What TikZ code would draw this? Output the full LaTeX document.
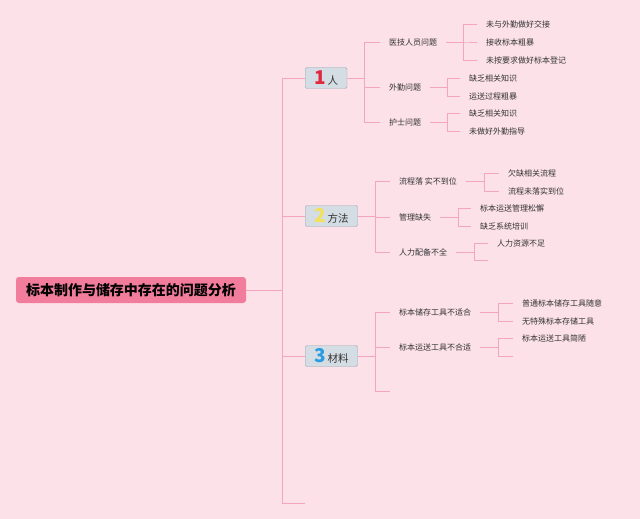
\documentclass[tikz,border=0pt]{standalone}
\usepackage{fontspec}
\setmainfont{Noto Sans CJK SC}
\usepackage{tikz}
\definecolor{bgPink}{HTML}{FCE1E9}
\definecolor{rootPink}{HTML}{F27C9C}
\definecolor{linkPink}{HTML}{F4A6BF}
\definecolor{boxGray}{HTML}{D4DDE3}
\definecolor{boxBorder}{HTML}{9CA7AF}
\definecolor{textGray}{HTML}{333333}
\definecolor{numRed}{HTML}{E0283F}
\definecolor{numYellow}{HTML}{F3E15A}
\definecolor{numBlue}{HTML}{2D9BE0}
\newcommand{\bignum}[2]{\textcolor{#1}{\fontsize{19}{19}\selectfont\bfseries #2}}

\begin{document}
\begin{tikzpicture}[x=1pt, y=-1pt, font=\fontsize{8}{10}\selectfont,
        root/.style={fill=rootPink, rounded corners=3pt, inner xsep=10pt,
            minimum height=26pt, font=\fontsize{14}{16}\selectfont\bfseries},
        cat/.style={draw=boxBorder, fill=boxGray, rounded corners=1.5pt, anchor=west,
            inner xsep=9pt, inner ysep=0pt, minimum height=21pt,
            font=\fontsize{10.5}{12}\selectfont, text=textGray},
        sub/.style={anchor=west, inner xsep=9pt, text=textGray},
        leaf/.style={anchor=west, inner xsep=9pt, text=textGray},
        link/.style={draw=linkPink, line width=0.9pt}]
        \fill[bgPink] (0,0) rectangle (640,519);
        \useasboundingbox (0,0) rectangle (640,519);
        % main branches
        \node[root] (r)  at (131,290) {标本制作与储存中存在的问题分析};
        \node[cat]  (c1) at (305,78)  {\bignum{numRed}{1}\,人};
        \node[cat]  (c2) at (305,216) {\bignum{numYellow}{2}\,方法};
        \node[cat]  (c3) at (305,356) {\bignum{numBlue}{3}\,材料};
        \coordinate (e0) at (305,503);
        \foreach \c in {c1,c2,c3} \draw[link] (r.east) -- ++(36,0) |- (\c.west);
        \draw[link] (r.east) -- ++(36,0) |- (e0);
        % 人
        \node[sub]  (s11) at (380,42)  {医技人员问题};
        \node[sub]  (s12) at (380,87)  {外勤问题};
        \node[sub]  (s13) at (380,122) {护士问题};
        \node[leaf] (l111) at (477,24) {未与外勤做好交接};
        \node[leaf] (l112) at (477,42) {接收标本粗暴};
        \node[leaf] (l113) at (477,60) {未按要求做好标本登记};
        \node[leaf] (l121) at (460,78) {缺乏相关知识};
        \node[leaf] (l122) at (460,96) {运送过程粗暴};
        \node[leaf] (l131) at (460,113) {缺乏相关知识};
        \node[leaf] (l132) at (460,131) {未做好外勤指导};
        \foreach \s in {s11,s12,s13} \draw[link] (c1.east) -- ++(17,0) |- (\s.west);
        \foreach \l in {l111,l112,l113} \draw[link] (s11.east) -- ++(17,0) |- (\l.west);
        \foreach \l in {l121,l122} \draw[link] (s12.east) -- ++(17,0) |- (\l.west);
        \foreach \l in {l131,l132} \draw[link] (s13.east) -- ++(17,0) |- (\l.west);
        % 方法
        \node[sub]  (s21) at (390,181) {流程落 实不到位};
        \node[sub]  (s22) at (390,217) {管理缺失};
        \node[sub]  (s23) at (390,252) {人力配备不全};
        \node[leaf] (l211) at (499,173) {欠缺相关流程};
        \node[leaf] (l212) at (499,191) {流程未落实到位};
        \node[leaf] (l221) at (471,208) {标本运送管理松懈};
        \node[leaf] (l222) at (471,226) {缺乏系统培训};
        \node[leaf] (l231) at (488,243) {人力资源不足};
        \coordinate (e23) at (488,260);
        \foreach \s in {s21,s22,s23} \draw[link] (c2.east) -- ++(18,0) |- (\s.west);
        \foreach \l in {l211,l212} \draw[link] (s21.east) -- ++(18,0) |- (\l.west);
        \foreach \l in {l221,l222} \draw[link] (s22.east) -- ++(18,0) |- (\l.west);
        \draw[link] (s23.east) -- ++(18,0) |- (l231.west);
        \draw[link] (s23.east) -- ++(18,0) |- (e23);
        % 材料
        \node[sub]  (s31) at (390,312) {标本储存工具不适合};
        \node[sub]  (s32) at (390,347) {标本运送工具不合适};
        \coordinate (e3) at (390,391);
        \node[leaf] (l311) at (513,303) {普通标本储存工具随意};
        \node[leaf] (l312) at (513,321) {无特殊标本存储工具};
        \node[leaf] (l321) at (513,338) {标本运送工具简陋};
        \coordinate (e32) at (513,356);
        \foreach \s in {s31,s32} \draw[link] (c3.east) -- ++(18,0) |- (\s.west);
        \draw[link] (c3.east) -- ++(18,0) |- (e3);
        \foreach \l in {l311,l312} \draw[link] (s31.east) -- ++(18,0) |- (\l.west);
        \draw[link] (s32.east) -- ++(18,0) |- (l321.west);
        \draw[link] (s32.east) -- ++(18,0) |- (e32);
    \end{tikzpicture}
\end{document}
